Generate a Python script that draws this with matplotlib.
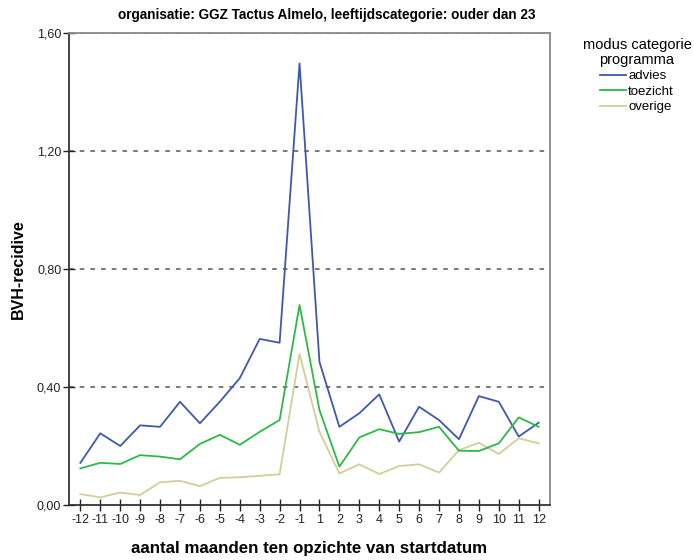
import matplotlib
matplotlib.use("Agg")
import matplotlib.pyplot as plt
from matplotlib.lines import Line2D

plt.rcParams['font.family'] = ['Liberation Sans', 'DejaVu Sans']

# data
maanden = ["-12", "-11", "-10", "-9", "-8", "-7", "-6", "-5", "-4", "-3", "-2", "-1",
           "1", "2", "3", "4", "5", "6", "7", "8", "9", "10", "11", "12"]
advies = [0.143, 0.243, 0.200, 0.270, 0.265, 0.350, 0.277, 0.350, 0.430, 0.563, 0.550, 1.497,
          0.485, 0.265, 0.311, 0.375, 0.215, 0.333, 0.288, 0.223, 0.369, 0.350, 0.232, 0.279]
toezicht = [0.124, 0.143, 0.139, 0.169, 0.164, 0.155, 0.207, 0.238, 0.204, 0.248, 0.288, 0.678,
            0.322, 0.130, 0.229, 0.257, 0.241, 0.247, 0.265, 0.184, 0.183, 0.209, 0.297, 0.265]
overige = [0.037, 0.026, 0.042, 0.034, 0.077, 0.082, 0.064, 0.092, 0.094, 0.099, 0.104, 0.512,
           0.248, 0.107, 0.138, 0.105, 0.132, 0.138, 0.110, 0.186, 0.211, 0.173, 0.226, 0.209]
y_ticks = [0.0, 0.4, 0.8, 1.2, 1.6]

kleuren = {"advies": "#3E58AC", "toezicht": "#2EB848", "overige": "#D3CE97"}

fig = plt.figure(figsize=(6.94, 5.6), dpi=100)
ax = fig.add_axes([69 / 694, 55 / 560, 481 / 694, 472 / 560])

x = list(range(len(maanden)))
# grid lines first so the series sit on top
for v in y_ticks[1:]:
    ax.axhline(v, color="#555555", linestyle=(0, (3, 4)), linewidth=1.1, zorder=1)

ax.plot(x, advies, color=kleuren["advies"], linewidth=1.3, zorder=3)
ax.plot(x, toezicht, color=kleuren["toezicht"], linewidth=1.3, zorder=3)
ax.plot(x, overige, color=kleuren["overige"], linewidth=1.3, zorder=2)

ax.set_xlim(-0.57, len(maanden) - 1 + 0.57)
ax.set_ylim(0, 1.6)
ax.set_xticks(x)
ax.set_xticklabels(maanden, fontsize=9)
ax.set_yticks(y_ticks)
ax.set_yticklabels([("%.2f" % v).replace(".", ",") for v in y_ticks], fontsize=9)
ax.tick_params(axis="both", direction="inout", length=9, width=1.0, colors="#222222")
ax.tick_params(axis="x", pad=2)
ax.tick_params(axis="y", pad=1)

ax.spines["left"].set_color("#333333")
ax.spines["left"].set_linewidth(1.3)
ax.spines["bottom"].set_color("#333333")
ax.spines["bottom"].set_linewidth(1.3)
ax.spines["right"].set_color("#888888")
ax.spines["right"].set_linewidth(1.3)
ax.spines["top"].set_color("#888888")
ax.spines["top"].set_linewidth(1.3)

ax.set_xlabel("aantal maanden ten opzichte van startdatum", fontsize=12.2,
              fontweight="bold", labelpad=11)
ax.set_ylabel("BVH-recidive", fontsize=11.5, fontweight="bold", labelpad=8)
fig.text(327 / 694, 1 - 15 / 560, "organisatie: GGZ Tactus Almelo, leeftijdscategorie: ouder dan 23",
         ha="center", va="center", fontsize=9.8, fontweight="bold")

handles = [Line2D([0], [0], color=kleuren[k], linewidth=1.3) for k in ["advies", "toezicht", "overige"]]
leg = fig.legend(handles, ["advies", "toezicht", "overige"], title="modus categorie\nprogramma",
                 loc="upper center", bbox_to_anchor=(637 / 694, 1 - 33 / 560), frameon=False,
                 fontsize=9.5, title_fontsize=10.5, handlelength=2.0, handletextpad=0.15,
                 labelspacing=0.25, borderaxespad=0)
leg.get_title().set_multialignment("center")
leg.get_title().set_linespacing(1.05)
leg._legend_box.align = "center"

fig.savefig("out.png", dpi=100)
